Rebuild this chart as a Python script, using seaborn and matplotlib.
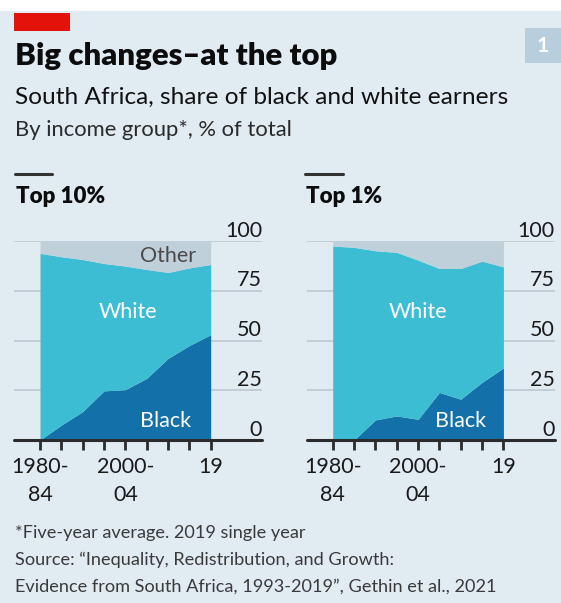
import matplotlib
matplotlib.use("Agg")
import matplotlib.pyplot as plt
import matplotlib.patches as mpatches
import seaborn as sns
import numpy as np

# ---------------- data ----------------
periods = ["1980-84", "1985-89", "1990-94", "1995-99", "2000-04",
           "2005-09", "2010-14", "2015-18", "2019"]
tick_labels = ["1980-\n84", "", "", "", "2000-\n04", "", "", "", "19"]
ytick_values = [0, 25, 50, 75, 100]

top10_black = [0, 7.5, 14.3, 24.7, 25.3, 31.0, 41.0, 47.5, 52.9]
top10_white = [93.8, 84.6, 76.4, 64.0, 62.1, 54.7, 43.2, 39.0, 35.3]
top10_other = [6.2, 7.9, 9.3, 11.3, 12.6, 14.3, 15.8, 13.5, 11.8]

top1_black = [0, 0, 10.1, 12.1, 10.4, 23.9, 20.5, 29.0, 36.2]
top1_white = [97.5, 96.8, 85.0, 82.2, 80.0, 62.3, 65.7, 60.9, 50.8]
top1_other = [2.5, 3.2, 4.9, 5.7, 9.6, 13.8, 13.8, 10.1, 13.0]

panels = [
    ("Top 10%", top10_black, top10_white, top10_other),
    ("Top 1%", top1_black, top1_white, top1_other),
]

# ---------------- style ----------------
sns.set_theme(style="white")
FONT = ["Lato", "DejaVu Sans"]
plt.rcParams["font.family"] = FONT

BG = "#E1EBF2"
C_BLACK = "#1470A8"
C_WHITE = "#3DBDD4"
C_OTHER = "#BFD0DB"
GRID = "#B9C6CF"
DARK = "#2B2B2B"

W, H = 561, 603
fig = plt.figure(figsize=(W / 100, H / 100), dpi=100, facecolor=BG)
renderer = fig.canvas.get_renderer()


def fx(px):
    return px / W


def fy(px):
    return 1 - px / H


def fit_text(t, target_px):
    w = t.get_window_extent(renderer=renderer).width
    t.set_fontsize(t.get_fontsize() * target_px / w)
    return t.get_fontsize()


# white strip on top
fig.patches.append(mpatches.Rectangle((0, fy(11)), 1, 11 / H, transform=fig.transFigure,
                                      facecolor="white", edgecolor="none", zorder=0))
# red tag
fig.patches.append(mpatches.Rectangle((fx(14), fy(31)), fx(56), 18 / H, transform=fig.transFigure,
                                      facecolor="#E3120B", edgecolor="none"))
# number box
fig.patches.append(mpatches.Rectangle((fx(525), fy(63)), fx(36), 35 / H, transform=fig.transFigure,
                                      facecolor="#B8CEDC", edgecolor="none"))
fig.text(fx(543), fy(45.5), "1", color="white", fontsize=15, fontweight="bold",
         ha="center", va="center")

# titles
t = fig.text(fx(15), fy(65), "Big changes\u2013at the top", fontsize=20, fontweight="heavy",
             color="#0C0C0C", va="baseline", ha="left")
fit_text(t, 322)
t = fig.text(fx(15), fy(104), "South Africa, share of black and white earners", fontsize=17,
             color="#121212", va="baseline", ha="left")
fit_text(t, 490)
t = fig.text(fx(15), fy(136), "By income group*, % of total", fontsize=15,
             color="#2A2A2A", va="baseline", ha="left")
fit_text(t, 277)

# footer
foot = [
    (538, "*Five-year average. 2019 single year"),
    (565, "Source: \u201cInequality, Redistribution, and Growth:"),
    (591.5, "Evidence from South Africa, 1993-2019\u201d, Gethin et al., 2021"),
]
ft = [fig.text(fx(15), fy(y), s, fontsize=13, color="#3A3A3A", va="baseline", ha="left")
      for y, s in foot]
fs_foot = fit_text(ft[2], 480)
for tt in ft:
    tt.set_fontsize(fs_foot)

# ---------------- panels ----------------
px_per = 21.34
x_left0 = [40.0, 332.7]
xmin, xmax = -1.2, 10.4
ax_w = (xmax - xmin) * px_per
title_x = [16, 306]
title_w = [89, 76]
line_x = [(15, 52), (305, 343)]
label_pos = {
    0: {"Other": (6.0, 92.3), "White": (4.1, 64.3), "Black": (5.9, 9.5)},
    1: {"White": (4.0, 64.3), "Black": (6.0, 9.5)},
}

x = np.arange(len(periods))
for i, (name, black, white, other) in enumerate(panels):
    left_px = x_left0[i] + xmin * px_per
    ax = fig.add_axes([fx(left_px), fy(440), fx(ax_w), 199 / H])
    ax.set_facecolor("none")
    ax.set_xlim(xmin, xmax)
    ax.set_ylim(0, 100)
    sns.despine(ax=ax, left=True, bottom=True, right=True, top=True)

    for v in ytick_values[1:]:
        ax.axhline(v, color=GRID, lw=1.1, zorder=0)
    ax.stackplot(x, black, white, other, colors=[C_BLACK, C_WHITE, C_OTHER],
                 linewidth=0, zorder=2)
    ax.axhline(0, color=DARK, lw=2.2, zorder=4, clip_on=False)

    ax.set_xticks(x)
    ax.set_xticklabels(tick_labels, fontsize=15.5, color="#1A1A1A", linespacing=1.5)
    ax.tick_params(axis="x", direction="out", length=7.5, width=2, color=DARK, pad=5,
                   bottom=True)
    ax.set_yticks([])

    for v in ytick_values:
        ax.text(1.0, v + 2.2, str(v), transform=ax.get_yaxis_transform(),
                ha="right", va="baseline", fontsize=15.5, color="#1A1A1A")

    for lab, (lx, ly) in label_pos[i].items():
        col = "#4A4A4A" if lab == "Other" else "white"
        ax.text(lx, ly, lab, ha="center", va="center", fontsize=15.5, color=col, zorder=5)

    # panel title + little rule
    tt = fig.text(fx(title_x[i]), fy(203), name, fontsize=15, fontweight="heavy",
                  color="#0C0C0C", va="baseline", ha="left")
    fit_text(tt, title_w[i])
    fig.add_artist(plt.Line2D([fx(line_x[i][0]), fx(line_x[i][1])], [fy(174), fy(174)],
                              transform=fig.transFigure, color="#333333", lw=2.2))

fig.savefig("out.png", dpi=100, facecolor=BG)
